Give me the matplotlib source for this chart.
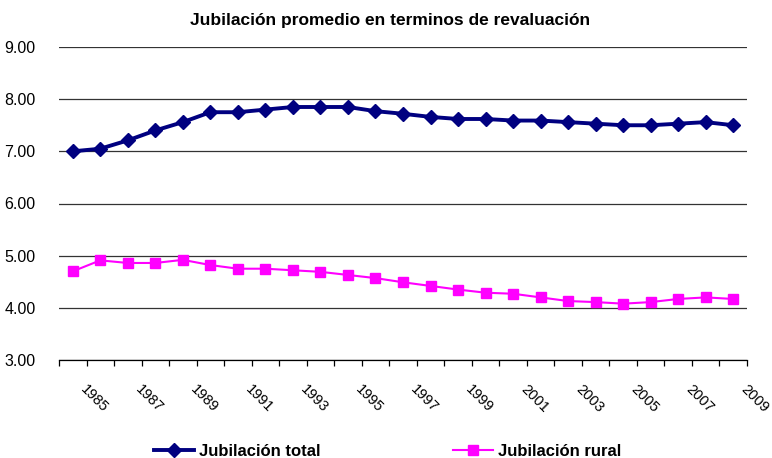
import matplotlib.pyplot as plt
import numpy as np

plt.rcParams['font.family'] = ['Liberation Sans', 'DejaVu Sans']

# ==============================
# Data
# ==============================
years = list(range(1985, 2010))
jubilacion_total = [7.00, 7.05, 7.21, 7.40, 7.56, 7.75, 7.75, 7.80, 7.85, 7.85,
                    7.85, 7.77, 7.72, 7.66, 7.62, 7.62, 7.59, 7.59, 7.56, 7.53,
                    7.50, 7.50, 7.53, 7.56, 7.50]
jubilacion_rural = [4.70, 4.91, 4.86, 4.86, 4.92, 4.82, 4.75, 4.75, 4.72, 4.69,
                    4.63, 4.57, 4.49, 4.42, 4.35, 4.29, 4.27, 4.20, 4.13, 4.11,
                    4.08, 4.11, 4.17, 4.20, 4.17]
y_ticks = [3.0, 4.0, 5.0, 6.0, 7.0, 8.0, 9.0]

# ==============================
# Figure
# ==============================
fig = plt.figure(figsize=(7.72, 4.58), dpi=100)
ax = fig.add_axes([59 / 772, 1 - 360 / 458, (747 - 59) / 772, (360 - 47) / 458])

x = np.arange(len(years))
ax.plot(x, jubilacion_total, color='#000080', lw=2.8, marker='D', ms=7.5,
        label='Jubilación total', zorder=3)
ax.plot(x, jubilacion_rural, color='#FF00FF', lw=1.5, marker='s', ms=7,
        label='Jubilación rural', zorder=3)

ax.set_xlim(-0.5, len(years) - 0.5)
ax.set_ylim(3.0, 9.0)
ax.set_yticks(y_ticks)
ax.set_yticklabels([f"{v:.2f}" for v in y_ticks], fontsize=11.5)
ax.yaxis.grid(True, color='#333333', lw=0.9)
ax.set_axisbelow(True)
ax.tick_params(axis='y', length=0, pad=17)

# ticks at the category borders, year labels every other category
ax.set_xticks(np.arange(len(years) + 1) - 0.5)
ax.set_xticklabels([])
ax.tick_params(axis='x', length=4, direction='out', width=0.9)
for xi, yr in zip(x[::2], years[::2]):
    ax.annotate(str(yr), xy=(xi, 0), xycoords=ax.get_xaxis_transform(),
                xytext=(15, -22), textcoords='offset pixels', rotation=-45,
                rotation_mode='anchor', ha='left', va='top', fontsize=10.5)

for side in ['top', 'right', 'left']:
    ax.spines[side].set_visible(False)
ax.spines['bottom'].set_linewidth(0.9)

fig.text(0.505, 1 - 20 / 458, 'Jubilación promedio en terminos de revaluación',
         fontsize=12.5, fontweight='bold', ha='center', va='center')

fig.legend(loc='center', bbox_to_anchor=(0.502, 1 - 451 / 458), ncol=2, frameon=False,
           handlelength=2.4, handletextpad=0.3, columnspacing=8,
           prop={'weight': 'bold', 'size': 12})

fig.savefig('out.png', dpi=100)
